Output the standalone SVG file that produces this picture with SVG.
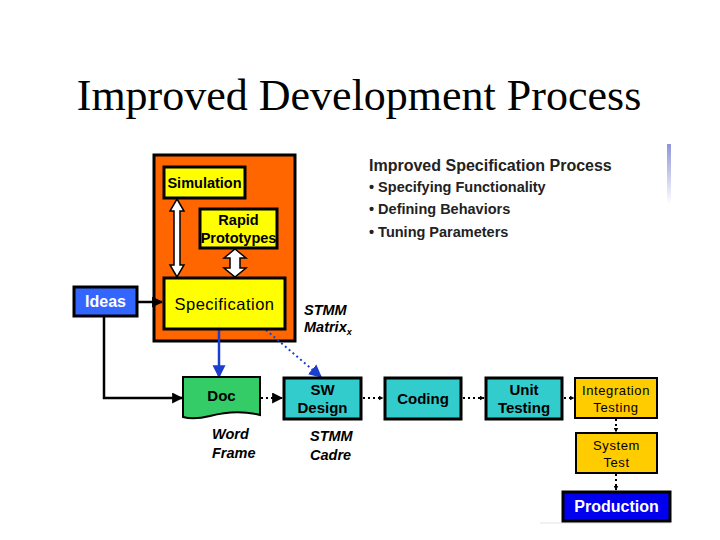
<svg xmlns="http://www.w3.org/2000/svg" width="720" height="540" viewBox="0 0 720 540">
<defs>
<style>
.lbl{font-family:"Liberation Sans",Arial,sans-serif;font-weight:bold;font-size:14.5px;text-anchor:middle;fill:#000}
.lt{font-family:"Liberation Sans",Arial,sans-serif;font-size:13px;text-anchor:middle;fill:#000;letter-spacing:0.6px}
.it{font-family:"Liberation Sans",Arial,sans-serif;font-weight:bold;font-style:italic;font-size:14.5px;fill:#000}
.hd{font-family:"Liberation Sans",Arial,sans-serif;font-weight:bold;font-size:14.5px;fill:#222}
.box{stroke:#000;stroke-width:3}
.con{fill:none;stroke:#000;stroke-width:2.5}
.dot{fill:none;stroke:#000;stroke-width:2;stroke-dasharray:2 3}
</style>
<marker id="ab" viewBox="0 0 10 10" refX="9" refY="5" markerWidth="5" markerHeight="5" orient="auto" markerUnits="userSpaceOnUse">
<path d="M0,0 L10,5 L0,10 z" fill="#000"/>
</marker>
<marker id="ak" viewBox="0 0 10 10" refX="9" refY="5" markerWidth="11" markerHeight="11" orient="auto" markerUnits="userSpaceOnUse">
<path d="M0,0 L10,5 L0,10 z" fill="#000"/>
</marker>
<marker id="au" viewBox="0 0 10 10" refX="9" refY="5" markerWidth="13" markerHeight="15" orient="auto" markerUnits="userSpaceOnUse">
<path d="M0,0 L10,5 L0,10 z" fill="#1a3fd0"/>
</marker>
<linearGradient id="gb" x1="0" y1="0" x2="0" y2="1">
<stop offset="0" stop-color="#8f95d6"/>
<stop offset="1" stop-color="#ffffff"/>
</linearGradient>
</defs>
<rect width="720" height="540" fill="#fff"/>
<text x="359" y="110" font-family="'Liberation Serif','Times New Roman',serif" font-size="44" text-anchor="middle" fill="#000">Improved Development Process</text>
<rect x="667" y="144" width="4" height="60" fill="url(#gb)"/>
<line x1="540" y1="523" x2="670" y2="523" stroke="#e4e4ec" stroke-width="1"/>

<g id="spec-area">
<rect x="154" y="155" width="141" height="186" fill="#ff6600" class="box"/>
</g>

<g id="connectors">
<path d="M177,199 L184,211 L180,211 L180,265 L184,265 L177,277 L170,265 L174,265 L174,211 L170,211 Z" fill="#fff" stroke="#000" stroke-width="1.5"/>
<path d="M235,249 L246,258 L240,258 L240,268 L246,268 L235,277 L224,268 L230,268 L230,258 L224,258 Z" fill="#fff" stroke="#000" stroke-width="1.5"/>
<line x1="137" y1="302" x2="162" y2="302" class="con" marker-end="url(#ak)"/>
<polyline points="104,316 104,398 182,398" class="con" marker-end="url(#ak)"/>
<line x1="219" y1="330" x2="219" y2="377" stroke="#1a3fd0" stroke-width="2.5" marker-end="url(#au)"/>
<line x1="266" y1="330" x2="321" y2="377" stroke="#1a3fd0" stroke-width="2" stroke-dasharray="2 3" marker-end="url(#au)"/>
<line x1="261" y1="398" x2="282" y2="398" class="dot" marker-end="url(#ak)"/>
<line x1="363" y1="398" x2="383" y2="398" class="dot" marker-end="url(#ab)"/>
<line x1="463" y1="398" x2="484" y2="398" class="dot" marker-end="url(#ab)"/>
<line x1="564" y1="398" x2="574" y2="398" class="dot" marker-end="url(#ab)"/>
<line x1="616" y1="419" x2="616" y2="432" class="dot" marker-end="url(#ab)"/>
<line x1="616" y1="474" x2="616" y2="490" class="dot" marker-end="url(#ab)"/>
</g>

<g id="simulation">
<rect x="164" y="167" width="81" height="31" fill="#ffff00" class="box"/>
<text x="204.5" y="188" class="lbl">Simulation</text>
</g>
<g id="rapid-prototypes">
<rect x="200" y="209" width="77" height="39" fill="#ffff00" class="box"/>
<text x="238.5" y="225" class="lbl">Rapid</text>
<text x="238.5" y="243" class="lbl">Prototypes</text>
</g>
<g id="specification">
<rect x="164" y="278" width="121" height="51" fill="#ffff00" class="box"/>
<text x="224.5" y="310" font-family="'Liberation Sans',Arial,sans-serif" font-size="16.5" text-anchor="middle" letter-spacing="0.5">Specification</text>
</g>
<g id="ideas">
<rect x="74" y="287" width="63" height="29" fill="#3366ff" class="box"/>
<text x="105.5" y="307" class="lbl" style="fill:#fff;font-size:16px">Ideas</text>
</g>
<g id="doc">
<path d="M183,377 L260,377 L260,415 C240,410 225,412 210,416 C198,419 190,419 183,417 Z" fill="#33cc66" stroke="#000" stroke-width="2"/>
<text x="221.5" y="401" class="lbl" style="font-size:15px">Doc</text>
</g>
<g id="sw-design">
<rect x="284" y="378" width="77" height="41" fill="#33cccc" class="box"/>
<text x="322.5" y="395" class="lbl" style="font-size:15px">SW</text>
<text x="322.5" y="413" class="lbl" style="font-size:15px">Design</text>
</g>
<g id="coding">
<rect x="385" y="378" width="76" height="41" fill="#33cccc" class="box"/>
<text x="423" y="404" class="lbl" style="font-size:15px">Coding</text>
</g>
<g id="unit-testing">
<rect x="486" y="378" width="76" height="41" fill="#33cccc" class="box"/>
<text x="524" y="395" class="lbl" style="font-size:15px">Unit</text>
<text x="524" y="413" class="lbl" style="font-size:15px">Testing</text>
</g>
<g id="integration-testing">
<rect x="575" y="378" width="82" height="40" fill="#ffcc00" stroke="#000" stroke-width="2"/>
<text x="616" y="395" class="lt">Integration</text>
<text x="616" y="412" class="lt">Testing</text>
</g>
<g id="system-test">
<rect x="576" y="433" width="81" height="40" fill="#ffcc00" stroke="#000" stroke-width="2"/>
<text x="616.5" y="450" class="lt">System</text>
<text x="616.5" y="467" class="lt">Test</text>
</g>
<g id="production">
<rect x="563" y="492" width="107" height="29" fill="#0000ee" class="box"/>
<text x="616.5" y="512" class="lbl" style="fill:#fff;font-size:16px">Production</text>
</g>

<g id="annotations">
<text x="369" y="171" class="hd" style="font-size:16px">Improved Specification Process</text>
<text x="369" y="192" class="hd">• Specifying Functionality</text>
<text x="369" y="214" class="hd">• Defining Behaviors</text>
<text x="369" y="237" class="hd">• Tuning Parameters</text>
<text x="304" y="315" class="it">STMM</text>
<text x="304" y="332" class="it">Matrix<tspan font-size="9" dy="3">x</tspan></text>
<text x="212" y="439" class="it">Word</text>
<text x="212" y="458" class="it">Frame</text>
<text x="310" y="441" class="it">STMM</text>
<text x="310" y="460" class="it">Cadre</text>
</g>
</svg>
